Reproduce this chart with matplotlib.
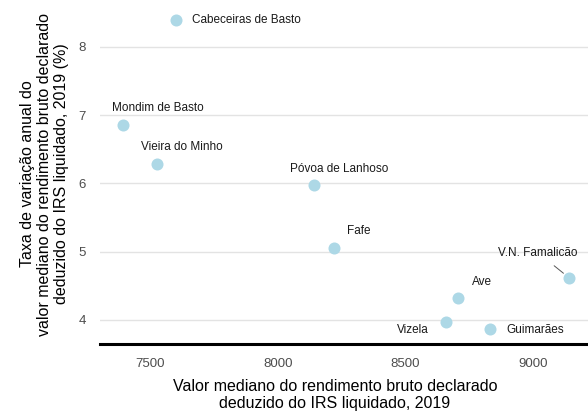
import numpy as np
import matplotlib
matplotlib.use("Agg")
import matplotlib.pyplot as plt

plt.rcParams['font.family'] = ['Liberation Sans', 'DejaVu Sans']

# Data
municipios = ['Cabeceiras de Basto', 'Mondim de Basto', 'Vieira do Minho',
              'Póvoa de Lanhoso', 'Fafe', 'Ave', 'Vizela', 'Guimarães',
              'V.N. Famalicão']
rendimento = [7602, 7393, 7526, 8142, 8221, 8706, 8659, 8832, 9141]
variacao = [8.40, 6.86, 6.28, 5.97, 5.06, 4.32, 3.97, 3.87, 4.62]

# label placement (pixel offsets from the point, alignment)
offsets = [(16, 0, 'left'), (35, 17, 'center'), (25, 17, 'center'),
           (25, 16, 'center'), (25, 17, 'center'), (24, 16, 'center'),
           (-33, -8, 'center'), (45, -1, 'center'), (-31, 25, 'center')]

fig = plt.figure(figsize=(5.88, 4.16), dpi=100)
ax = fig.add_axes([100 / 588, 72 / 416, 488 / 588, 340 / 416])

ax.scatter(rendimento, variacao, s=75, color='#ADD8E6', zorder=3, linewidths=0)

for name, x, y, (dx, dy, ha) in zip(municipios, rendimento, variacao, offsets):
    kw = {}
    if name == 'V.N. Famalicão':
        kw['arrowprops'] = dict(arrowstyle='-', color='#555555', lw=0.7,
                                shrinkA=5, shrinkB=5)
    ax.annotate(name, (x, y), xytext=(dx, dy), textcoords='offset pixels',
                ha=ha, va='center', fontsize=8.5, color='#1a1a1a', **kw)

ax.set_xlim(7304, 9216)
ax.set_ylim(3.647, 8.63)
ax.set_xticks([7500, 8000, 8500, 9000])
ax.set_yticks([4, 5, 6, 7, 8])
ax.tick_params(length=0, labelsize=9.5, labelcolor='#4d4d4d')
ax.tick_params(axis='x', pad=10)
ax.tick_params(axis='y', pad=10)

ax.grid(axis='y', color='#e3e3e3', linewidth=1)
ax.set_axisbelow(True)
for side in ['top', 'right', 'left']:
    ax.spines[side].set_visible(False)
ax.spines['bottom'].set_linewidth(2.2)
ax.spines['bottom'].set_color('black')

ax.set_xlabel('Valor mediano do rendimento bruto declarado\ndeduzido do IRS liquidado, 2019',
              fontsize=11.5, linespacing=1.2)
ax.xaxis.set_label_coords(0.4816, -0.102, transform=ax.transAxes)
ax.xaxis.label.set_va('top')
ax.set_ylabel('Taxa de variação anual do\nvalor mediano do rendimento bruto declarado\n'
              'deduzido do IRS liquidado, 2019 (%)',
              fontsize=11.5, linespacing=1.15, labelpad=7)

fig.savefig('out.png', dpi=100)
